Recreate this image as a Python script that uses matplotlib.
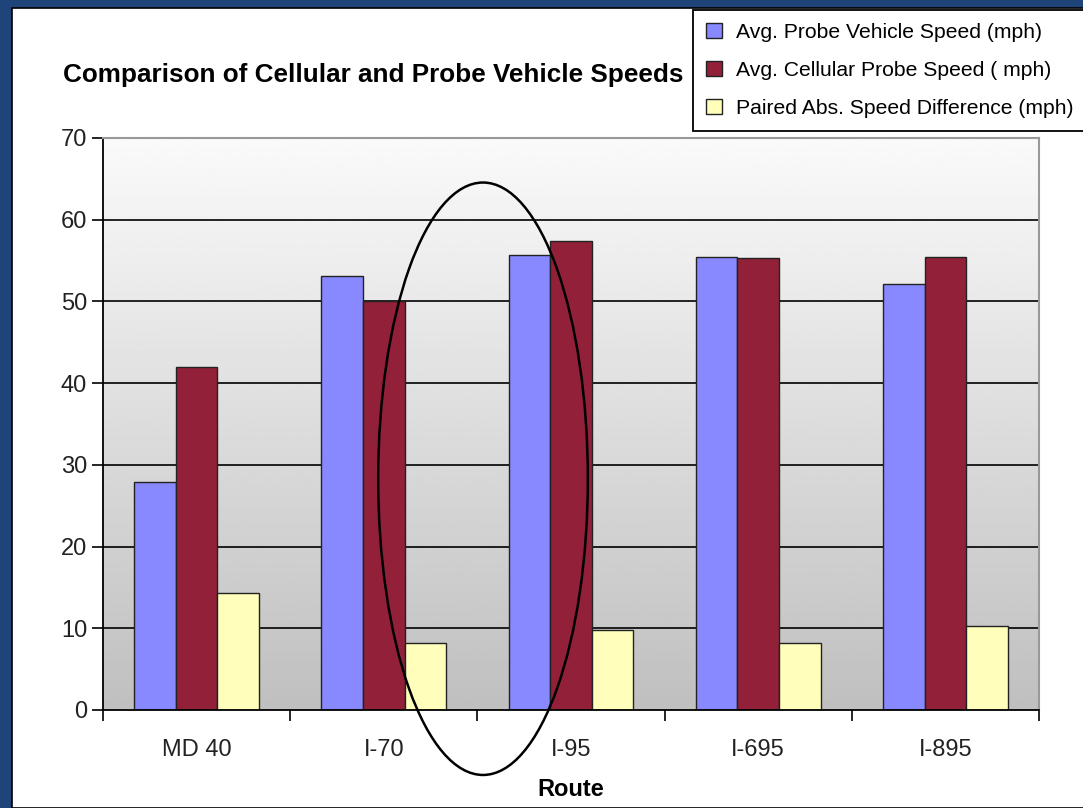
import numpy as np
import matplotlib
matplotlib.use('Agg')
import matplotlib.pyplot as plt
from matplotlib.patches import Rectangle, Ellipse

plt.rcParams['font.family'] = ['Liberation Sans', 'DejaVu Sans']

routes = ['MD 40', 'I-70', 'I-95', 'I-695', 'I-895']
probe_speed = [27.9, 53.1, 55.7, 55.4, 52.1]
cell_speed = [42.0, 50.1, 57.4, 55.3, 55.4]
abs_diff = [14.3, 8.2, 9.8, 8.2, 10.3]
series_names = ['Avg. Probe Vehicle Speed (mph)',
                'Avg. Cellular Probe Speed ( mph)',
                'Paired Abs. Speed Difference (mph)']
colors = ['#8888FF', '#932039', '#FFFFBB']

fig = plt.figure(figsize=(10.83, 8.08), dpi=100)
fig.patch.set_facecolor('#1E4479')
fig.patches.append(Rectangle((12 / 1083, 0), 1.0, 1 - 8 / 808, transform=fig.transFigure,
                             facecolor='white', edgecolor='black', lw=1.2, zorder=-5))

ax = fig.add_axes([103 / 1083, 1 - 710 / 808, (1039 - 103) / 1083, (710 - 138) / 808])
ax.set_xlim(-0.5, len(routes) - 0.5)
ax.set_ylim(0, 70)

# gradient background of the plot area
grad = np.linspace(0.75, 0.98, 256).reshape(-1, 1)
ax.imshow(grad, cmap='gray', vmin=0, vmax=1, aspect='auto', origin='lower',
          extent=[-0.5, len(routes) - 0.5, 0, 70], zorder=0)

for yv in range(10, 70, 10):
    ax.axhline(yv, color='black', lw=1.2, zorder=1)

x = np.arange(len(routes))
w = 1 / 4.5
for i, vals in enumerate([probe_speed, cell_speed, abs_diff]):
    ax.bar(x + (i - 1) * w, vals, w, color=colors[i], edgecolor='#222222', lw=1.0,
           label=series_names[i], zorder=2)

ax.set_xticks(x)
ax.set_xticklabels(routes)
ax.tick_params(axis='x', which='major', length=0, pad=21, labelsize=17, colors='#222222')
ax.set_xticks(np.arange(-0.5, len(routes), 1), minor=True)
ax.tick_params(axis='x', which='minor', length=8, width=1.2, direction='out')
ax.set_yticks(range(0, 71, 10))
ax.tick_params(axis='y', length=8, width=1.2, labelsize=17, labelcolor='#222222')

for s in ['top', 'right']:
    ax.spines[s].set_color('#999999')
    ax.spines[s].set_linewidth(1.5)
for s in ['left', 'bottom']:
    ax.spines[s].set_color('black')
    ax.spines[s].set_linewidth(1.3)

ax.set_xlabel('Route', fontsize=17, fontweight='bold', labelpad=12)
fig.text(63 / 1083, 1 - 75 / 808, 'Comparison of Cellular and Probe Vehicle Speeds',
         fontsize=18.8, fontweight='bold', va='center', ha='left')

leg = fig.legend(loc='upper left', bbox_to_anchor=(693 / 1083, 1 - 10 / 808), fontsize=15.2,
                 frameon=True, fancybox=False, edgecolor='black', framealpha=1,
                 handlelength=0.75, handleheight=0.75, handletextpad=0.7,
                 borderpad=0.6, labelspacing=0.9, borderaxespad=0)
leg.get_frame().set_linewidth(1.3)

ell = Ellipse((1.53, 28.3), 1.12, 72.5, fill=False, edgecolor='black', lw=1.8,
              clip_on=False, zorder=5)
ax.add_patch(ell)

fig.savefig('out.png', dpi=100)
